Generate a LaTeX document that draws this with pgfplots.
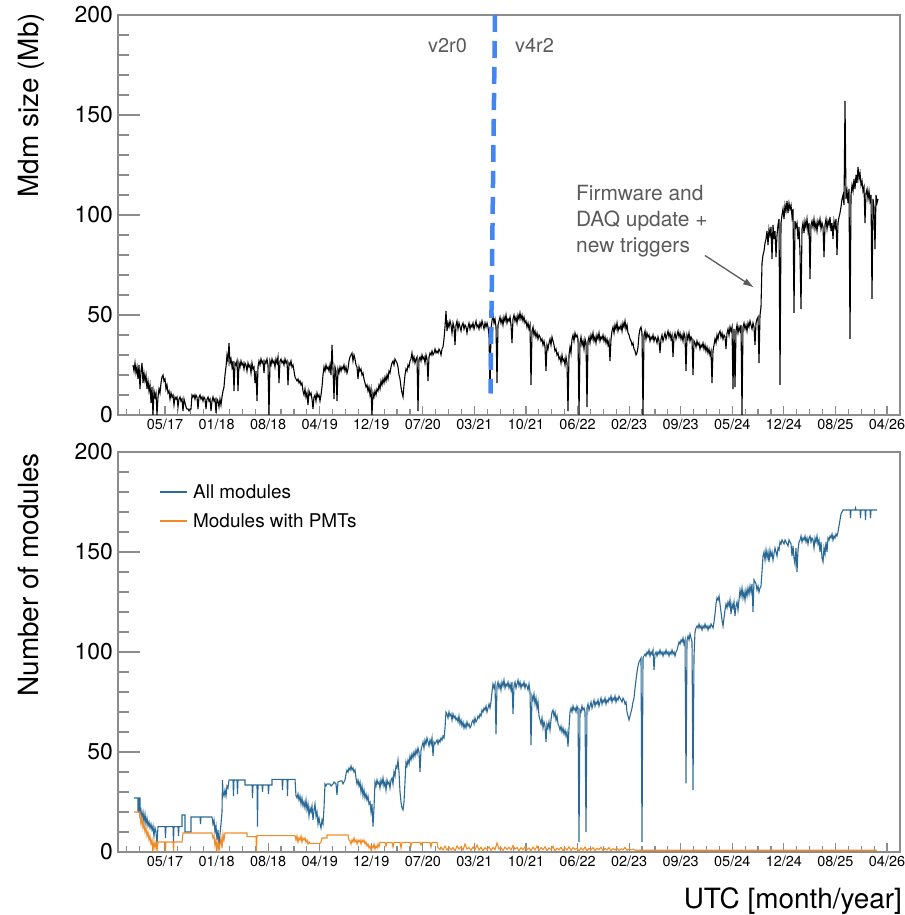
\documentclass[border=0pt]{standalone}
\usepackage{fontspec}
\setmainfont{TeX Gyre Heros}
\usepackage{pgfplots}
\pgfplotsset{compat=1.18}
\usetikzlibrary{arrows.meta}

\definecolor{framecol}{RGB}{140,140,140}
\definecolor{allcol}{RGB}{43,106,150}
\definecolor{pmtcol}{RGB}{240,140,40}
\definecolor{vercol}{RGB}{66,133,244}
\definecolor{notecol}{RGB}{90,90,90}

% x is the horizontal time position; one tick step is about 7.6 months
\pgfplotsset{
  rootpanel/.style={
    scale only axis, width=782bp, height=400bp,
    xmin=118, xmax=900, ymin=0, ymax=200,
    xtick={165,216.57,268.14,319.71,371.28,422.85,474.42,525.99,577.56,629.13,680.70,732.27,783.84,835.41,886.98},
    xticklabels={05/17,01/18,08/18,04/19,12/19,07/20,03/21,10/21,06/22,02/23,09/23,05/24,12/24,08/25,04/26},
    minor xtick={126.3225,139.215,...,900},
    ytick={0,50,100,150,200}, minor y tick num=4,
    tick pos=left, tick align=inside,
    major tick length=22bp, minor tick length=11bp,
    xtick style={/pgfplots/major tick length=9bp, /pgfplots/minor tick length=6bp},
    axis line style={draw=framecol, line width=1.2bp},
    tick style={draw=framecol, line width=1.2bp},
    /pgf/number format/assume math mode=true,
    yticklabel style={font=\fontsize{23}{23}\selectfont, inner sep=0pt, xshift=-5bp},
    xticklabel style={font=\fontsize{14.5}{14.5}\selectfont, inner sep=0pt, yshift=-4bp},
  },
}

\begin{document}
\begin{tikzpicture}
\useasboundingbox (0,0) rectangle (905bp,915bp);

% ---------- top: Mdm size ----------
\begin{axis}[rootpanel, at={(118bp,500bp)}, anchor=south west]
\addplot[black, line width=1.1bp] coordinates {
(133,25)(134,22)(135,26)(136,21)(137,24)(138,18)(139,25)(140,13)(141,22)(142,26)(143,16)(144,21)(145,17)(146,20)(147,13)(148,17)(149,12)(150,15)(151,6)(152,14)(153,0)(154,12)(155,9)(156,11)(157,0)(158,9)(159,13)(160,11)(161,16)(162,19)(163,20)(164,17)(165,18)(166,13)(167,15)(168,11)(169,12)(170,8)(171,11)(172,9)(173,10)(174,5)(175,9)(176,8)(177,9)(178,4)(179,8)(180,9)(181,7)(182,8)(183,2)(184,8)(185,6)(186,4)(187,3)(188,3)(189,2)(190,3)(191,3)
(192,10)(193,9)(194,10)(195,8)(196,10)(197,9)(198,3)(199,9)(200,10)(201,8)(202,9)(203,7)(204,9)(205,8)(206,3)(207,8)(208,9)(209,7)(210,8)(211,2)(212,7)(213,9)(214,7)(215,8)(216,1)(217,8)(218,7)(219,4)(220,8)(221,5)(222,9)(223,12)(224,14)(225,20)(226,24)(227,30)(228,27)(229,36)(230,26)(231,28)(232,24)(233,27)(234,12)(235,26)(236,25)(237,27)(238,12)(239,26)(240,24)(241,27)(242,25)(243,26)(244,23)(245,26)(246,25)(247,22)(248,26)(249,24)(250,25)(251,21)(252,26)(253,23)(254,24)(255,16)(256,22)(257,7)(258,24)(259,27)(260,25)
(261,28)(262,26)(263,27)(264,21)(265,27)(266,26)(267,28)(268,25)(269,0)(270,27)(271,25)(272,28)(273,26)(274,27)(275,24)(276,28)(277,26)(278,29)(279,16)(280,27)(281,28)(282,26)(283,27)(284,25)(285,28)(286,26)(287,27)(288,15)(289,26)(290,25)(291,27)(292,24)(293,25)(294,22)(295,19)(296,18)(297,17)(298,18)(299,16)(300,17)(301,15)(302,16)(303,12)(304,10)(305,13)(306,9)(307,11)(308,5)(309,12)(310,10)(311,11)(312,8)(313,3)(314,9)(315,10)(316,7)(317,11)(318,9)(319,10)(320,7)
(321,10)(322,14)(323,20)(324,24)(325,22)(326,25)(327,23)(328,24)(329,22)(330,25)(331,20)(332,35)(333,23)(334,8)(335,24)(336,22)(337,7)(338,23)(339,21)(340,24)(341,22)(342,24)(343,23)(344,25)(345,22)(346,24)(347,21)(348,23)(349,27)(350,29)(351,30)(352,31)(353,27)(354,30)(355,28)(356,25)(357,24)(358,18)(359,24)(360,22)(361,23)(362,20)(363,21)(364,18)(365,16)(366,14)(367,15)(368,12)(369,14)(370,10)(371,13)(372,0)(373,11)(374,9)(375,12)(376,10)(377,13)(378,12)(379,15)(380,13)
(381,17)(382,15)(383,18)(384,16)(385,19)(386,17)(387,20)(388,18)(389,22)(390,21)(391,24)(392,26)(393,27)(394,25)(395,28)(396,27)(397,26)(398,24)(399,20)(400,18)(401,14)(402,11)(403,9)(404,15)(405,20)(406,23)(407,22)(408,25)(409,24)(410,27)(411,28)(412,31)(413,27)(414,29)(415,26)(416,28)(417,29)(418,2)(419,28)(420,29)(421,27)(422,30)(423,28)(424,29)(425,26)(426,30)(427,28)(428,17)(429,29)(430,31)(431,30)(432,32)(433,30)(434,31)(435,33)(436,31)(437,32)(438,31)(439,33)(440,32)
(441,30)(442,33)(443,34)(444,38)(445,44)(446,52)(447,42)(448,46)(449,44)(450,47)(451,45)(452,41)(453,46)(454,44)(455,35)(456,45)(457,47)(458,43)(459,46)(460,44)(461,42)(462,45)(463,46)(464,43)(465,45)(466,44)(467,41)(468,44)(469,46)(470,43)(471,45)(472,44)(473,46)(474,43)(475,45)(476,47)(477,44)(478,45)(479,43)(480,46)(481,44)(482,47)(483,45)(484,43)(485,46)(486,44)(487,46)(488,44)(489,40)(490,11)(491,43)(492,47)(493,50)(494,46)(495,48)(496,44)(497,16)(498,45)(499,47)(500,49)
(501,46)(502,48)(503,45)(504,49)(505,47)(506,50)(507,46)(508,48)(509,47)(510,49)(511,45)(512,36)(513,48)(514,50)(515,47)(516,49)(517,46)(518,50)(519,48)(520,51)(521,48)(522,50)(523,47)(524,49)(525,46)(526,47)(527,44)(528,46)(529,43)(530,45)(531,15)(532,42)(533,44)(534,40)(535,42)(536,39)(537,41)(538,38)(539,40)(540,39)(541,37)(542,38)(543,35)(544,37)(545,34)(546,22)(547,35)(548,33)(549,36)(550,38)(551,35)(552,39)(553,37)(554,35)(555,32)(556,33)(557,30)(558,31)(559,28)(560,29)
(561,26)(562,30)(563,27)(564,28)(565,25)(566,29)(567,26)(568,2)(569,30)(570,34)(571,31)(572,38)(573,40)(574,37)(575,41)(576,39)(577,40)(578,38)(579,0)(580,36)(581,39)(582,35)(583,37)(584,33)(585,38)(586,36)(587,4)(588,37)(589,39)(590,36)(591,40)(592,38)(593,41)(594,37)(595,39)(596,36)(597,40)(598,38)(599,41)(600,37)(601,39)(602,38)(603,40)(604,37)(605,39)(606,36)(607,38)(608,35)(609,37)(610,27)(611,38)(612,42)(613,44)(614,41)(615,45)(616,43)(617,46)(618,42)(619,44)(620,43)
(621,45)(622,42)(623,46)(624,44)(625,47)(626,43)(627,45)(628,41)(629,40)(630,38)(631,37)(632,35)(633,36)(634,33)(635,32)(636,30)(637,31)(638,34)(639,40)(640,43)(641,44)(642,41)(643,0)(644,40)(645,42)(646,38)(647,41)(648,39)(649,40)(650,37)(651,39)(652,38)(653,40)(654,37)(655,39)(656,38)(657,36)(658,39)(659,37)(660,31)(661,38)(662,40)(663,37)(664,39)(665,41)(666,38)(667,40)(668,42)(669,39)(670,41)(671,38)(672,40)(673,29)(674,39)(675,41)(676,38)(677,40)(678,42)(679,39)(680,41)
(681,38)(682,40)(683,37)(684,41)(685,39)(686,22)(687,40)(688,38)(689,41)(690,37)(691,39)(692,38)(693,20)(694,37)(695,36)(696,34)(697,37)(698,35)(699,36)(700,33)(701,35)(702,34)(703,36)(704,33)(705,35)(706,32)(707,34)(708,31)(709,33)(710,30)(711,32)(712,16)(713,32)(714,35)(715,38)(716,36)(717,40)(718,38)(719,41)(720,42)(721,39)(722,41)(723,38)(724,40)(725,39)(726,33)(727,41)(728,43)(729,40)(730,44)(731,42)(732,44)(733,13)(734,43)(735,14)(736,42)(737,45)(738,41)(739,44)(740,42)
(741,45)(742,0)(743,44)(744,46)(745,43)(746,45)(747,42)(748,46)(749,44)(750,47)(751,45)(752,43)(753,46)(754,44)(755,35)(756,46)(757,48)(758,49)(759,26)(760,50)(761,54)(762,76)(763,80)(764,82)(765,86)(766,88)(767,92)(768,85)(769,93)(770,90)(771,94)(772,78)(773,95)(774,88)(775,92)(776,79)(777,90)(778,95)(779,98)(780,15)(781,96)(782,100)(783,103)(784,98)(785,105)(786,102)(787,107)(788,101)(789,106)(790,103)(791,105)(792,99)(793,103)(794,51)(795,97)(796,94)(797,96)(798,88)(799,94)(800,81)
(801,53)(802,93)(803,96)(804,91)(805,97)(806,94)(807,98)(808,92)(809,96)(810,68)(811,95)(812,97)(813,94)(814,98)(815,93)(816,96)(817,92)(818,97)(819,95)(820,98)(821,93)(822,96)(823,94)(824,79)(825,95)(826,98)(827,93)(828,97)(829,95)(830,99)(831,92)(832,96)(833,88)(834,97)(835,94)(836,98)(837,80)(838,96)(839,99)(840,101)(841,104)(842,108)(843,110)(844,105)(845,157)(846,108)(847,112)(848,106)(849,113)(850,38)(851,110)(852,115)(853,112)(854,118)(855,113)(856,120)(857,116)(858,124)(859,118)(860,121)
(861,115)(862,117)(863,112)(864,114)(865,96)(866,111)(867,113)(868,108)(869,112)(870,107)(871,110)(872,58)(873,108)(874,104)(875,83)(876,110)(877,106)(878,108)
};
\draw[vercol, line width=4.5bp, dash pattern=on 17bp off 9bp] (axis cs:495,200) -- (axis cs:490.5,10.75);
\node[notecol, anchor=base west, inner sep=0pt, font=\fontsize{20}{20}\selectfont] at (axis cs:428,181.25) {v2r0};
\node[notecol, anchor=base west, inner sep=0pt, font=\fontsize{20}{20}\selectfont] at (axis cs:515,181.25) {v4r2};
\node[notecol, anchor=base west, inner sep=0pt, font=\fontsize{21}{21}\selectfont] at (axis cs:576,107.25) {Firmware and};
\node[notecol, anchor=base west, inner sep=0pt, font=\fontsize{21}{21}\selectfont] at (axis cs:576,94.25) {DAQ update +};
\node[notecol, anchor=base west, inner sep=0pt, font=\fontsize{21}{21}\selectfont] at (axis cs:576,81.25) {new triggers};
\draw[notecol, line width=1.3bp, -{Latex[length=11bp,width=7bp]}] (axis cs:705,79.75) -- (axis cs:754,63.75);
\end{axis}

% ---------- bottom: number of modules ----------
\begin{axis}[rootpanel, at={(118bp,63bp)}, anchor=south west]
\addplot[allcol, line width=1.1bp] coordinates {
(134,27)(138,27)(138,20)(139,20)(139,27)(140,27)(140,19)(141,21)(142,17)(143,20)(144,15)(145,19)(146,14)(147,17)(148,13)(149,15)(150,12)(151,14)(152,11)(153,13)(154,8)(155,12)(156,10)(157,4)(158,12.7)(165,12.7)(165.5,7)(166,12.7)(173,12.7)(173.5,5)(174,12.7)(178,12.7)(178.5,8)(179,12.7)(182,12.7)(182,18.5)(185,18.5)(185,10)(191,10)(191,17.5)(200,17.5)(200.5,14)(201,17.5)(212,17.5)(213,14)(214,16)(215,10)(216,13)(217,6)(218,11)(219,3)(220,9)(221,14)(222,20)(222.5,36)(223,30)(224,28)(225,31)(226,28)(227,33)(228,32)(229,36)(233,36)(233.5,28)(234,36)(237,36)(237.5,29)(238,36)(245,36)(245,33.5)(252,33.5)(252.5,27)(253,33.5)(257,33.5)(257.5,12.7)(258,33.5)(262,33.5)(262.5,30)(263,33.5)(268,33.5)(268.5,29)(269,33.5)(272,33.5)(272,36.3)(282,36.3)(282.5,31)(283,36.3)(287,36.3)(287.5,28)(288,36.3)(295,36.3)
(296,28)(297,27)(298,29)(299,26)(300,28)(301,24)(302,27)(303,23)(304,25)(305,22)(306,26)(307,21)(308,24)(309,18)(310,22)(311,20)(312,23)(313,16)(314,21)(315,24)(316,18)(317,20)(318,14)(319,17)(320,14)(321,12)(322,16)(323,14)(324,22)(325,34)(326,33)(327,34)(330,34)(331,33)(333,34)(334,35)(336,34)(337,28.5)(338,35)(340,35.5)(342,35.5)(343,34)(345,36)(346,39)(347,41)(348,40)(349,42)(350,41)(351,43)(352,41)(353,42)(354,40)(355,41)(356,37)(357,34)(358,36)(359,33)(360,35)(361,30)(362,33)(363,28)(364,31)(365,27)(366,29)(367,26)(368,28)(369,24)(370,25)(371,20)(372,24)(373,12.7)(374,22)(375,35)
(376,33)(377,36)(378,34)(379,35)(380,32)(381,36)(382,34)(383,37)(384,33)(385,35)(386,31)(387,36)(388,34)(389,35)(390,32)(391,36)(392,37)(393,34)(394,40)(395,38)(396,43)(397,42)(398,46)(399,40)(400,30)(401,25)(402,22)(403,21)(404,25)(405,35)(406,45)(407,43)(408,46)(409,44)(410,48)(411,46)(412,49)(413,47)(414,50)(415,48)(416,51)(417,49)(418,52)(419,50)(420,40)(421,51)(422,53)(423,55)(424,52)(425,56)(426,54)(427,57)(428,55)(429,53)(430,56)(431,54)(432,57)(433,48)(434,55)(435,54)(436,55)(437,56)(438,54)(439,56)(440,55)(441,57)(442,56)(443,58)(444,57)(445,62)
(446,70)(447,69)(448,67)(449,70)(450,68)(451,69)(452,66)(453,69)(454,67)(455,68)(456,66)(457,67)(458,65)(459,68)(460,64)(461,66)(462,63)(463,65)(464,62)(465,64)(466,62)(467,65)(468,63)(469,64)(470,62)(471,63)(472,65)(473,66)(474,64)(475,67)(476,65)(477,66)(478,68)(479,67)(480,69)(481,68)(482,71)(483,70)(484,72)(485,71)(486,73)(487,70)(488,72)(489,74)(490,72)(491,75)(492,80)(493,84)(494,82)(495,84)(496,59)(497,83)(498,85)(499,82)(500,84)(501,81)(502,85)(503,83)(504,86)(505,82)(506,84)(507,83)(508,85)(509,82)(510,84)(511,81)(512,85)(513,69)(514,83)(515,85)
(516,82)(517,84)(518,86)(519,83)(520,85)(521,82)(522,84)(523,83)(524,85)(525,82)(526,84)(527,83)(528,81)(529,84)(530,80)(531,53.5)(532,78)(533,76)(534,79)(535,74)(536,77)(537,72)(538,75)(539,68)(540,66)(541,64)(542,67)(543,62)(544,65)(545,63)(546,55)(547,64)(548,62)(549,65)(550,61)(551,66)(552,70)(553,71)(554,68)(555,70)(556,66)(557,68)(558,64)(559,63)(560,61)(561,63)(562,60)(563,62)(564,59)(565,61)(566,58)(567,60)(568,52.7)(569,62)(570,70)(571,72)(572,70)(573,73)(574,71)(575,72)(576,70)(577,73)(578,72)(579,5)(580,71)
(581,70)(582,73)(583,71)(584,72)(585,70)(586,10)(587,72)(588,74)(589,71)(590,73)(591,75)(592,72)(593,74)(594,76)(595,73)(596,75)(597,74)(598,76)(599,73)(600,75)(601,77)(602,74)(603,76)(604,75)(605,77)(606,74)(607,76)(608,75)(609,77)(610,76)(611,78)(612,75)(613,77)(614,76)(615,78)(616,75)(617,77)(618,76)(619,78)(620,77)(621,76)(622,75)(623,77)(624,76)(625,74)(626,75)(627,70)(628,68)(629,66)(630,68)(631,70)(632,72)(633,75)(634,77)(635,82)(636,86)(637,90)(638,93)(639,95)(640,96)(641,97)(642,5)(643,97)(644,98)(645,99)
(646,98)(647,100)(648,99)(649,101)(650,98)(651,100)(652,99)(653,101)(654,91)(655,99)(656,100)(657,98)(658,100)(659,99)(660,101)(661,99)(662,100)(663,98)(664,100)(665,99)(666,101)(667,99)(668,100)(669,98)(670,100)(671,99)(672,101)(673,99)(674,100)(675,98)(676,100)(677,101)(678,103)(679,105)(680,104)(681,106)(682,105)(683,107)(684,104)(685,106)(686,34.3)(687,106)(688,108)(689,106)(690,109)(691,107)(692,105)(693,31)(694,98)(695,110)(696,112)(697,113)(698,112)(699,114)(700,112)(701,113)(702,111)(703,113)(704,112)(705,114)
(706,112)(707,113)(708,111)(709,113)(710,112)(711,114)(712,113)(713,112)(714,115)(715,119)(716,124)(717,127)(718,126)(719,128)(720,124)(721,120)(722,116)(723,113)(724,117)(725,121)(726,124)(727,122)(728,125)(729,123)(730,126)(731,119)(732,124)(733,122)(734,125)(735,118)(736,123)(737,125)(738,121)(739,126)(740,131)(741,128)(742,132)(743,127)(744,130)(745,126)(746,131)(747,128)(748,132)(749,129)(750,133)(751,130)(752,134)(753,120)(754,136)(755,135)(756,134)(757,131)(758,133)(759,130)(760,132)(761,133)(762,140)(763,148)(764,150)(765,146)
(766,151)(767,147)(768,150)(769,145)(770,151)(771,148)(772,150)(773,146)(774,149)(775,152)(776,150)(777,148)(778,152)(779,151)(780,155)(781,154)(782,156)(783,155)(784,154)(785,156)(786,155)(787,154)(788,153)(789,156)(790,155)(791,154)(792,148)(793,153)(794,147)(795,144)(796,152)(797,140)(798,151)(799,155)(800,156)(801,158)(802,155)(803,157)(804,156)(805,158)(806,155)(807,157)(808,154)(809,157)(810,158)(811,155)(812,157)(813,156)(814,152)(815,157)(816,155)(817,158)(818,154)(819,156)(820,150)(821,155)(822,147)(823,145)(824,152)(825,149)
(826,155)(827,150)(828,157)(829,156)(830,158)(831,157)(832,159)(833,156)(834,158)(835,157)(836,159)(837,158)(838,160)(839,163)(840,166)(841,169)(842,170)(843,171)(850,171)(850.5,167)(851,171)(855,171)(855.5,172)(856,171)(860,171)(860.5,167)(861,171)(865,171)(865.5,166)(866,171)(870,171)(870.5,167)(871,171)(877,171)
};
\addplot[pmtcol, line width=1.1bp] coordinates {
(134,20)(140,20)(140,18)(141,14)(142,17)(143,12)(144,14)(145,10)(146,12)(147,8)(148,10)(149,6)(150,8)(151,4)(152,6)(153,1)(154,5)(155,2)(156,5)(157,0.5)(158,5)(165,5)(165.5,0.5)(166,5)(173,5)(173.5,0.5)(174,5)(182,5)(183,9.5)(212,9.5)(213,7)(214,8)(215,3)(216,6)(217,1)(218,5)(219,0.5)(220,4)(221,7)(222,2)(223,9)(224,6)(225,9.5)(247,9.5)(247,7.7)(256,7.7)(256.5,0.5)(257,8.2)(295,8.2)
(296,6)(297,8)(298,5)(299,7)(300,6)(301,8)(302,5)(303,7)(304,6)(305,7)(306,5)(307,6)(308,4)(309,5)(310,4.3)(320,4.3)(321,5)(322,7)(327,7)(327,8.5)(348,8.5)(349,6)(350,5.7)(351,4)(352,6)(353,5)(354,7)(355,5)(356,6)(357,4)(358,6)(359,5)(360,6)(361,4)(362,6)(363,5)(364,6)(365,4)(366,5)(367,3)(368,4)(369,2)(370,3)(371,1)(372,3)(373,2)(374,4)(375,1.5)(376,3)(377,2)(378,4)(379,2.5)(380,4.8)(385,4.8)(386,3)(387,4.8)(392,4.8)(393,2.5)(394,4.8)(400,4.8)(401,2)(402,4.8)(410,4.8)(411,3)(412,4.8)(420,4.8)(421,3.5)(422,4.8)(430,4.8)(431,2.5)(432,4.8)(437,4.8)
(438,2.2)(440,1.2)(441,2.5)(443,1)(445,3)(447,1)(449,2.5)(451,1)(453,2.2)(455,0.5)(457,3)(459,1.5)(461,2.5)(463,1)(465,4)(467,1.5)(469,2.2)(471,0.8)(473,2.5)(475,1.2)(477,3.5)(479,1)(481,2.4)(483,0.6)(485,2.2)(487,1.3)(489,2.6)(491,0.8)(493,2.3)(495,1.2)(497,4.5)(499,1.5)(501,2.2)(503,0.7)(505,2.5)(507,1.3)(509,2.4)(511,1)(513,3.2)(515,1.4)(517,2.3)(519,0.6)(521,2.2)(523,1.1)(525,2.6)(527,1.2)(529,2.0)(531,0.6)(533,2.4)(535,1.0)(537,3.0)(539,0.8)(541,2.2)(543,1.2)(545,2.6)(547,0.7)(549,2.0)(551,1.2)(553,2.8)(555,0.5)
(557,1.9)(559,1.1)(561,2.4)(563,0.6)(565,2.1)(567,1.0)(569,2.6)(571,0.7)(573,2.2)(575,1.3)(577,1.9)(579,0.4)(581,2.1)(583,0.9)(585,2.5)(587,0.6)(589,1.8)(591,1.1)(593,2.2)(595,0.7)(597,1.9)(599,1.2)(601,2.4)(603,0.6)(605,1.8)(607,1.0)(609,2.2)(611,0.6)(613,1.7)(615,1.0)(617,2.0)(619,0.7)(621,1.6)(623,1.1)(625,2.3)(627,0.8)(629,1.5)(631,1.0)(633,1.5)(635,0.9)(877,0.9)
};
% legend (ROOT style, no frame)
\draw[allcol, line width=1.1bp] (axis cs:160,180) -- (axis cs:187,180);
\node[anchor=west, inner sep=0pt, font=\fontsize{19}{19}\selectfont] at (axis cs:193,180) {All modules};
\draw[pmtcol, line width=1.1bp] (axis cs:160,165.5) -- (axis cs:187,165.5);
\node[anchor=west, inner sep=0pt, font=\fontsize{19}{19}\selectfont] at (axis cs:193,165.5) {Modules with PMTs};
\end{axis}

% axis titles, ROOT places them at the axis ends
\node[rotate=90, anchor=base east, inner sep=0pt, font=\fontsize{28}{28}\selectfont] at (38bp,902bp) {Mdm size (Mb)};
\node[rotate=90, anchor=base east, inner sep=0pt, font=\fontsize{28}{28}\selectfont] at (38bp,462bp) {Number of modules};
\node[anchor=base east, inner sep=0pt, font=\fontsize{28}{28}\selectfont] at (902bp,7bp) {UTC [month/year]};
\end{tikzpicture}
\end{document}
